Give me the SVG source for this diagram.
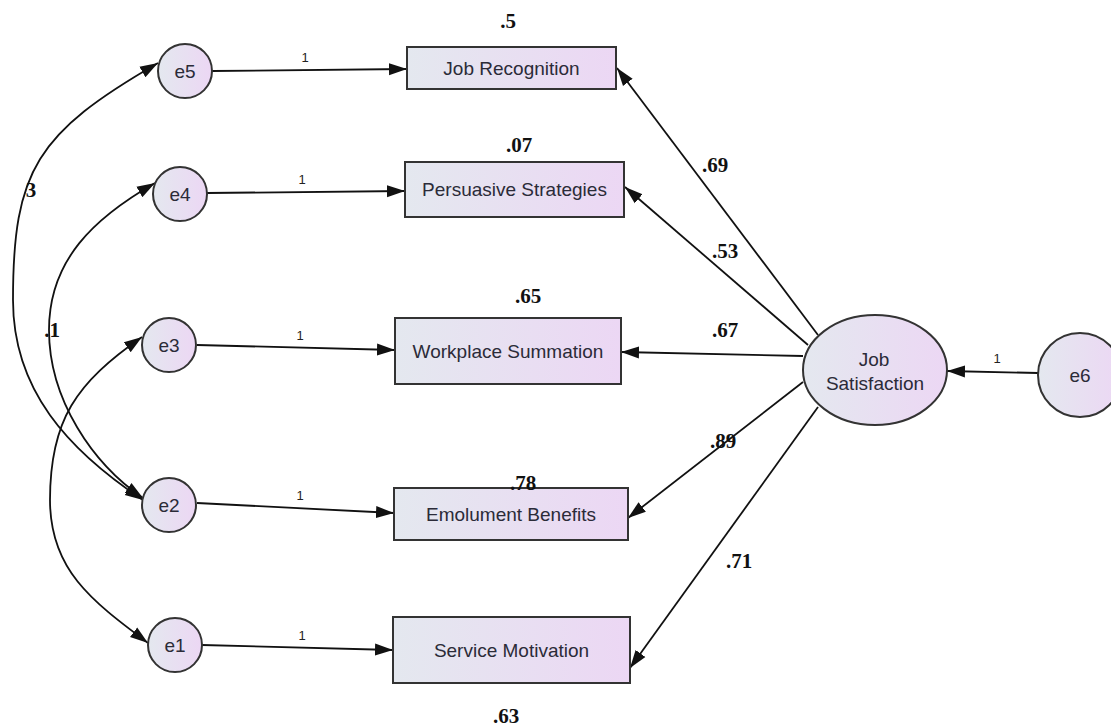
<svg xmlns="http://www.w3.org/2000/svg" width="1111" height="728" viewBox="0 0 1111 728">
  <defs>
    <linearGradient id="fill" x1="0" y1="0" x2="1" y2="0">
      <stop offset="0" stop-color="#e4e8ef"/>
      <stop offset="1" stop-color="#ecd7f4"/>
    </linearGradient>
    <marker id="ah" markerUnits="userSpaceOnUse" markerWidth="20" markerHeight="14" refX="18" refY="7" orient="auto-start-reverse">
      <path d="M0,1 L18,7 L0,13 z" fill="#111"/>
    </marker>
    <style>
      .box { fill: url(#fill); stroke: #333; stroke-width: 2; }
      .lbl { font-family: "Liberation Sans", Arial, sans-serif; font-size: 19px; fill: #2b2b38; text-anchor: middle; }
      .val { font-family: "Liberation Serif", "Times New Roman", serif; font-size: 21px; font-weight: bold; fill: #111; text-anchor: middle; }
      .one { font-family: "Liberation Sans", Arial, sans-serif; font-size: 13px; fill: #222; text-anchor: middle; }
      .ln { fill: none; stroke: #111; stroke-width: 1.8; }
      .ar { marker-end: url(#ah); }
      .dbl { marker-start: url(#ah); marker-end: url(#ah); }
    </style>
  </defs>
  <rect width="1111" height="728" fill="#fff"/>

  <g id="connectors">
    <line class="ln ar" x1="212" y1="71" x2="407" y2="69"/>
    <line class="ln ar" x1="207" y1="193" x2="405" y2="191"/>
    <line class="ln ar" x1="197" y1="345" x2="395" y2="350"/>
    <line class="ln ar" x1="197" y1="503" x2="394" y2="513"/>
    <line class="ln ar" x1="202" y1="645" x2="393" y2="650"/>
    <line class="ln ar" x1="1038" y1="373" x2="947" y2="371"/>
    <line class="ln ar" x1="818" y1="335" x2="617" y2="68"/>
    <line class="ln ar" x1="808" y1="345" x2="625" y2="187"/>
    <line class="ln ar" x1="803" y1="356" x2="621" y2="352"/>
    <line class="ln ar" x1="803" y1="382" x2="628" y2="518"/>
    <line class="ln ar" x1="818" y1="407" x2="630" y2="668"/>
    <path class="ln dbl" d="M158,63 C37,133 13,170 13,300 C13,390 68,450 143,500"/>
    <path class="ln dbl" d="M155,183 C94,218 49,260 49,330 C49,400 93,464 143,498"/>
    <path class="ln dbl" d="M142,337 C76,383 50,420 50,500 C50,570 92,601 148,643"/>
    <text class="one" x="305" y="62">1</text>
    <text class="one" x="302" y="184">1</text>
    <text class="one" x="300" y="340">1</text>
    <text class="one" x="300" y="500">1</text>
    <text class="one" x="302" y="640">1</text>
    <text class="one" x="997" y="363">1</text>
    <text class="val" x="715" y="172">.69</text>
    <text class="val" x="725" y="258">.53</text>
    <text class="val" x="725" y="337">.67</text>
    <text class="val" x="723" y="448">.89</text>
    <text class="val" x="739" y="568">.71</text>
    <text class="val" x="31" y="197">3</text>
    <text class="val" x="52" y="337">.1</text>
  </g>

  <g id="e5"><circle class="box" cx="185" cy="71" r="27"/><text class="lbl" x="185" y="78">e5</text></g>
  <g id="e4"><circle class="box" cx="180" cy="194" r="27"/><text class="lbl" x="180" y="201">e4</text></g>
  <g id="e3"><circle class="box" cx="169" cy="345" r="27"/><text class="lbl" x="169" y="352">e3</text></g>
  <g id="e2"><circle class="box" cx="169" cy="505" r="27"/><text class="lbl" x="169" y="512">e2</text></g>
  <g id="e1"><circle class="box" cx="175" cy="645" r="27"/><text class="lbl" x="175" y="652">e1</text></g>
  <g id="e6"><circle class="box" cx="1080" cy="375" r="42"/><text class="lbl" x="1080" y="382">e6</text></g>

  <g id="job-recognition">
    <rect class="box" x="407" y="47" width="209" height="42"/>
    <text class="lbl" x="511.5" y="75">Job Recognition</text>
    <text class="val" x="508" y="28">.5</text>
  </g>
  <g id="persuasive-strategies">
    <rect class="box" x="405" y="162" width="219" height="55"/>
    <text class="lbl" x="514.5" y="196">Persuasive Strategies</text>
    <text class="val" x="519" y="152">.07</text>
  </g>
  <g id="workplace-summation">
    <rect class="box" x="395" y="318" width="226" height="66"/>
    <text class="lbl" x="508" y="358">Workplace Summation</text>
    <text class="val" x="528" y="303">.65</text>
  </g>
  <g id="emolument-benefits">
    <rect class="box" x="394" y="488" width="234" height="52"/>
    <text class="lbl" x="511" y="521">Emolument Benefits</text>
    <text class="val" x="523" y="490">.78</text>
  </g>
  <g id="service-motivation">
    <rect class="box" x="393" y="617" width="237" height="66"/>
    <text class="lbl" x="511.5" y="657">Service Motivation</text>
    <text class="val" x="506" y="723">.63</text>
  </g>
  <g id="job-satisfaction">
    <ellipse class="box" cx="875" cy="370" rx="72" ry="55"/>
    <text class="lbl" x="874" y="366">Job</text>
    <text class="lbl" x="875" y="390">Satisfaction</text>
  </g>
</svg>
